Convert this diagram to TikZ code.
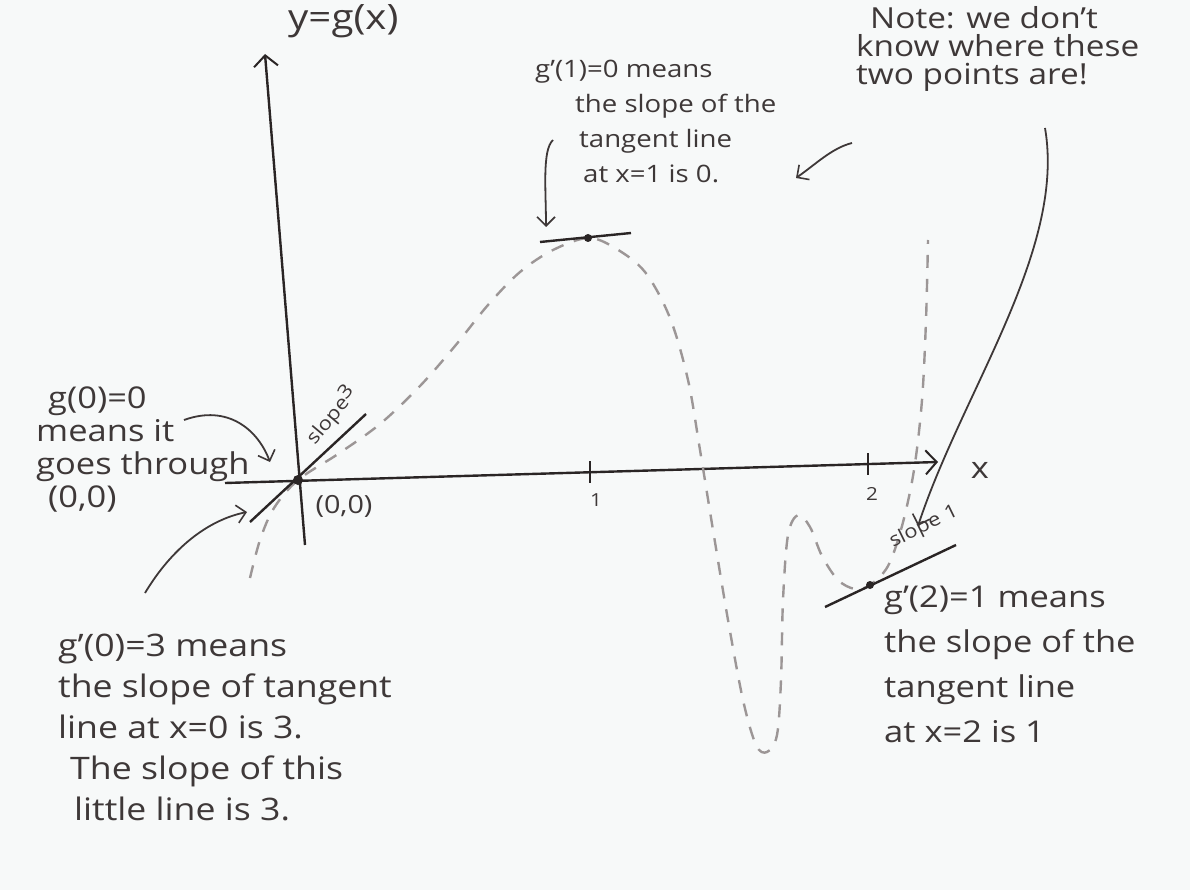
\documentclass[tikz,border=0pt]{standalone}
\usepackage{fontspec}
\setmainfont{Open Sans}[FakeStretch=1.15]
\usepackage{xcolor}
\definecolor{Pencil}{HTML}{3E3838}
\definecolor{Graphite}{HTML}{2A2525}
\definecolor{Smudge}{HTML}{9C9696}
\definecolor{Paper}{HTML}{F7F9F9}
\usetikzlibrary{arrows.meta,positioning}

\begin{document}
\begin{tikzpicture}[x=1pt,y=-1pt,
  note/.style={align=left,text=Pencil,inner sep=0pt,anchor=north west},
  axis/.style={draw=Graphite,line width=2.4pt,-{Straight Barb[length=11pt,width=24pt,line width=2pt]}},
  tick/.style={draw=Graphite,line width=2pt},
  tangent/.style={draw=Graphite,line width=2.4pt},
  curve/.style={draw=Smudge,line width=2.4pt,dash pattern=on 13pt off 11pt},
  pointer/.style={draw=Pencil,line width=1.8pt,-{Straight Barb[length=9pt,width=18pt,line width=1.6pt]}},
  dot/.style={circle,fill=Graphite,inner sep=0pt,minimum size=10pt}
]
\fill[Paper] (0,0) rectangle (1190,890);
\useasboundingbox (0,0) rectangle (1190,890);

% axes
\coordinate (O) at (298,480);
\coordinate (xstart) at (225,483);
\coordinate (xend) at (938,462);
\coordinate (ystart) at (305,545);
\coordinate (yend) at (265,54);
\draw[axis] (xstart) -- (xend);
\draw[axis] (ystart) -- (yend);
\foreach \tx/\ty in {590/472,868/464}
  \draw[tick] (\tx,\ty-11) -- (\tx,\ty+11);
\node[text=Pencil,font=\fontsize{30}{30}\selectfont] (xlab) at (980,470) {x};
\node[note,font=\fontsize{35}{35}\selectfont] (ylab) at (288,4) {y=g(x)};
\node[text=Pencil,font=\fontsize{18}{18}\selectfont] (one) at (596,500) {1};
\node[text=Pencil,font=\fontsize{18}{18}\selectfont] (two) at (872,494) {2};

% the graph of g, guessed
\draw[curve] plot[smooth,tension=0.55] coordinates {
  (250,578) (260,540) (274,508) (298,480) (338,454) (380,424) (420,386)
  (455,346) (488,305) (520,272) (553,250) (588,238) (615,248) (645,272)
  (670,318) (688,380) (700,450) (713,530) (728,620) (743,700) (756,745)
  (767,752) (777,735) (781,680) (783,600) (788,535) (798,515) (810,527)
  (822,556) (838,580) (855,589) (870,585) (888,566) (902,526) (914,470)
  (922,400) (926,320) (928,240)};

% tangent lines
\coordinate (Q1) at (588,238);
\coordinate (Q2) at (870,585);
\coordinate (t0a) at (250,522);
\coordinate (t0b) at (366,414);
\coordinate (t1a) at (540,242);
\coordinate (t1b) at (631,233);
\coordinate (t2a) at (825,607);
\coordinate (t2b) at (956,545);
\draw[tangent] (t0a) -- (t0b);
\draw[tangent] (t1a) -- (t1b);
\draw[tangent] (t2a) -- (t2b);
\node[dot] (d0) at (O) {};
\node[dot,minimum size=8pt] (d1) at (Q1) {};
\node[dot,minimum size=8pt] (d2) at (Q2) {};
\node[text=Pencil,rotate=50,font=\fontsize{19}{19}\selectfont] (s3) at (331,415) {slope\raisebox{5pt}{3}};
\node[text=Pencil,rotate=26,font=\fontsize{19}{19}\selectfont] (s1) at (924,527) {slope\,\,1};
\node[text=Pencil,font=\fontsize{25}{25}\selectfont,below right=12pt and 14pt of O] (orig) {(0,0)};

% notes
\node[note,font=\fontsize{30}{33}\selectfont] (gzero) at (36,387)
  {\hspace*{12pt}g(0)=0\\means it\\goes through\\\hspace*{12pt}(0,0)};
\node[note,font=\fontsize{31}{41}\selectfont] (gdzero) at (58,634)
  {g'(0)=3 means\\the slope of tangent\\line at x=0 is 3.\\\hspace*{12pt}The slope of this\\\hspace*{16pt}little line is 3.};
\node[note,font=\fontsize{24}{35}\selectfont] (gdone) at (535,60)
  {g'(1)=0 means\\\hspace*{40pt}the slope of the\\\hspace*{44pt}tangent line\\\hspace*{48pt}at x=1 is 0.};
\node[note,font=\fontsize{29}{28}\selectfont] (notice) at (856,6)
  {\hspace*{14pt}Note: we don't\\know where these\\two points are!};
\node[note,font=\fontsize{30}{45}\selectfont] (gdtwo) at (884,586)
  {g'(2)=1 means\\the slope of the\\tangent line\\at x=2 is 1};

% pointers
\coordinate (p0s) at (184,420);
\coordinate (p0e) at (270,462);
\coordinate (p1s) at (145,593);
\coordinate (p1e) at (247,512);
\coordinate (p2s) at (553,140);
\coordinate (p2e) at (546,227);
\coordinate (p3s) at (852,143);
\coordinate (p3e) at (796,178);
\coordinate (p4s) at (1045,128);
\coordinate (p4e) at (918,526);
\draw[pointer] (p0s) .. controls (228,404) and (258,430) .. (p0e);
\draw[pointer] (p1s) .. controls (172,548) and (208,520) .. (p1e);
\draw[pointer] (p2s) .. controls (542,150) and (546,190) .. (p2e);
\draw[pointer] (p3s) .. controls (832,148) and (816,164) .. (p3e);
\draw[pointer] (p4s) .. controls (1066,250) and (962,392) .. (p4e);
\end{tikzpicture}
\end{document}
